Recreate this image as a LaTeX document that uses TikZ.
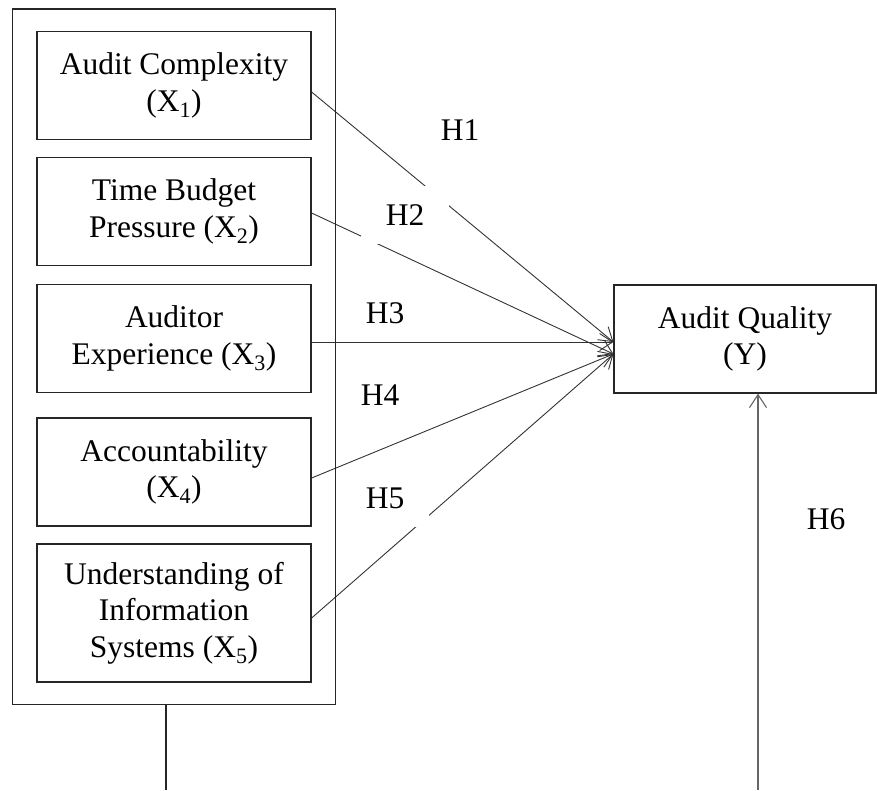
\documentclass[tikz,border=0pt]{standalone}
\usepackage{fontspec}
\setmainfont{Liberation Serif}
\usetikzlibrary{arrows.meta,fit}
\begin{document}
\begin{tikzpicture}[x=1pt,y=-1pt,every node/.style={font=\fontsize{31.5}{36.5}\selectfont},
  var/.style={draw=black!85,line width=1.2pt,minimum width=274pt,minimum height=108pt,align=center},
  hyp/.style={fill=white,minimum width=88pt,minimum height=58pt},
  link/.style={draw=black!80,line width=0.9pt,-{Straight Barb[length=13pt,width=17pt]}}]
\useasboundingbox (0,0) rectangle (877,790);
% variables
\node[var] (b1) at (174,85.5) {Audit Complexity\\(X\textsubscript{1})};
\node[var] (b2) at (174,211.5) {Time Budget\\Pressure (X\textsubscript{2})};
\node[var] (b3) at (174,338.5) {Auditor\\Experience (X\textsubscript{3})};
\node[var] (b4) at (174,472) {Accountability\\(X\textsubscript{4})};
\node[var,minimum height=138pt] (b5) at (174,613) {Understanding of\\Information\\Systems (X\textsubscript{5})};
\node[var,minimum width=262pt] (aq) at (745,339) {Audit Quality\\(Y)};
\coordinate (aqtop) at ([yshift=-3pt]aq.west); \coordinate (aqbot) at ([yshift=-15pt]aq.west);
% hypotheses
\draw[link] ([yshift=-6.5pt]b1.east) -- (aqtop);
\draw[link] ([yshift=-1.5pt]b2.east) -- (aqbot);
\draw[link] (b3.east |- aqtop) -- (aqtop);
\draw[link] ([yshift=-6pt]b4.east) -- (aqbot);
\draw[link] ([yshift=-5pt]b5.east) -- (aqbot);
\coordinate (mleft) at (166,790); \coordinate (mright) at (758,790);
\draw[link,draw=black!60,line width=1.1pt] (mright) -- (mright |- aq.south);
\node[hyp] (h1) at (460,130) {H1};
\node[hyp] (h2) at (405,215) {H2};
\node[hyp] (h3) at (385,313) {H3};
\node[hyp] (h4) at (380,395) {H4};
\node[hyp] (h5) at (385,498) {H5};
\node[hyp] (h6) at (826,519) {H6};
% frame round the variables
\node[draw=black!85,line width=1.2pt,fit=(b1)(b5),inner xsep=24pt,inner ysep=22pt] (outer) {};
\draw[black!85,line width=1.2pt] (outer.south -| mleft) -- (mleft);
\end{tikzpicture}
\end{document}
